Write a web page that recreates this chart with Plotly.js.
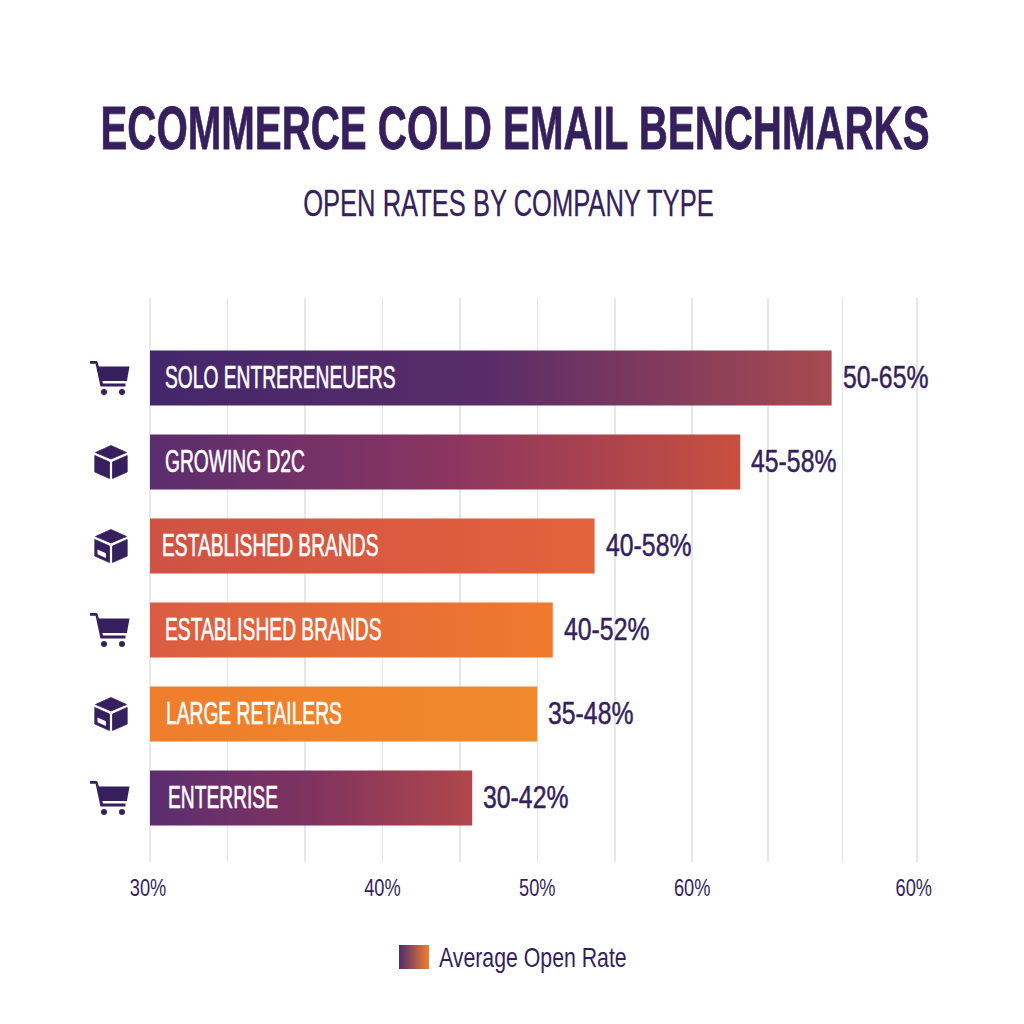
<!DOCTYPE html>
<html>
<head>
<meta charset="utf-8">
<title>Ecommerce cold email benchmarks</title>
<script src="https://cdn.plot.ly/plotly-3.0.1.min.js"></script>
<style>
html, body { margin: 0; padding: 0; background: #fff; }
#graph { width: 1024px; height: 1024px; }
</style>
</head>
<body>
<div id="graph"></div>
<script>
//DATA
var companies = ['SOLO ENTRERENEUERS', 'GROWING D2C', 'ESTABLISHED BRANDS', 'ESTABLISHED BRANDS', 'LARGE RETAILERS', 'ENTERRISE'];
var barValues = [69.0, 63.1, 53.7, 51.0, 50.0, 45.8];
var rangeLabels = ['50-65%', '45-58%', '40-58%', '40-52%', '35-48%', '30-42%'];
var gridValues = [25, 30, 35, 40, 45, 50, 55, 60, 64.9, 69.7, 74.5];
var gridLabels = ['30%', '', '', '40%', '', '50%', '', '60%', '', '', '60%'];
var iconKinds = ['cart', 'box', 'parcel', 'cart', 'parcel', 'cart'];

//STYLE
var DARK = '#351f5c';
var FONT = '"Liberation Sans Narrow", "Liberation Sans", sans-serif';
var barStart = ['#43276b', '#5a2d6e', '#cf5243', '#db5c43', '#ef7d2c', '#5b2d70'];
var barMid = ['#5a2c68', '#8a3560', '#d95a40', '#e56c38', '#f0842b', '#80335f'];
var barEnd = ['#a84a50', '#c8503f', '#e2633b', '#ef7a2d', '#f08a2b', '#b0474c'];
var labelShift = [14, 14, 11, 14, 15, 17];

var L = 148, R = 930, T = 298, B = 862;

//HELPER FUNCTIONS
function px(x) { return (x - L) / (R - L); }
function py(y) { return (B - y) / (B - T); }

function icon(kind) {
	var body;
	if (kind == 'cart') {
		body = '<path d="M0 1h6.500l1 .8L8.800 6.500H39.500l-2.600 14.500H12.300l.7 2.500H35.500v3H10.500L5.600 3.800H0z"/>' +
			'<circle cx="14" cy="32" r="3"/><circle cx="32" cy="32" r="3"/>';
		return 'data:image/svg+xml;utf8,' + encodeURIComponent('<svg xmlns="http://www.w3.org/2000/svg" viewBox="0 0 40 36" fill="' + DARK + '">' + body + '</svg>');
	}
	body = '<path d="M17 0.500L32.500 7.500 17 14 1.500 7.500z"/>' +
		'<path d="M0.800 10.500L15.500 17V33.500L0.800 27z"/>' +
		'<path d="M33.200 10.500L18.500 17V33.500L33.200 27z"/>';
	if (kind == 'parcel') {
		body += '<path d="M3.500 20.500l8.500 3.700v4.800L3.500 25.300z" fill="#fff" stroke="none"/>';
	}
	return 'data:image/svg+xml;utf8,' + encodeURIComponent('<svg xmlns="http://www.w3.org/2000/svg" viewBox="0 0 34 34" fill="' + DARK + '" stroke="' + DARK + '" stroke-width="0.8" stroke-linejoin="round">' + body + '</svg>');
}

//squeeze a text element sideways, the installed fonts are wider than the original
function squeeze(el, factor, left, thicken) {
	var w = el.getComputedTextLength();
	el.setAttribute('textLength', w * factor);
	el.setAttribute('lengthAdjust', 'spacingAndGlyphs');
	if (left) {
		el.setAttribute('x', parseFloat(el.getAttribute('x')) - w * (1 - factor) / 2);
	}
	if (thicken) {
		el.style.stroke = el.style.fill;
		el.style.strokeWidth = thicken + 'px';
	}
}

function addGradient(svg, id, stops) {
	var ns = 'http://www.w3.org/2000/svg';
	var defs = svg.querySelector('defs');
	var g = document.createElementNS(ns, 'linearGradient');
	g.setAttribute('id', id);
	stops.forEach(function (c, i) {
		var stop = document.createElementNS(ns, 'stop');
		stop.setAttribute('offset', i / (stops.length - 1));
		stop.setAttribute('stop-color', c);
		g.appendChild(stop);
	});
	defs.appendChild(g);
}

//MAIN
var rows = companies.map(function (c, i) { return i; });

var trace = {
	type: 'bar',
	orientation: 'h',
	x: barValues.map(function (v) { return v - 25; }),
	base: 25,
	y: rows,
	width: 0.655,
	marker: { color: barStart, line: { width: 0 } },
	hoverinfo: 'skip'
};

var annotations = [];
companies.forEach(function (c, i) {
	annotations.push({
		text: c, x: 25, y: i, xref: 'x', yref: 'y',
		xanchor: 'left', yanchor: 'middle', xshift: labelShift[i],
		showarrow: false, borderpad: 0,
		font: { family: FONT, size: 31, color: '#ffffff' }
	});
	annotations.push({
		text: rangeLabels[i], x: barValues[i], y: i, xref: 'x', yref: 'y',
		xanchor: 'left', yanchor: 'middle', xshift: 10,
		showarrow: false, borderpad: 0,
		font: { family: FONT, size: 31, color: DARK }
	});
});
annotations.push({
	text: 'OPEN RATES BY COMPANY TYPE', x: px(508.5), y: py(204), xref: 'paper', yref: 'paper',
	xanchor: 'center', yanchor: 'middle', showarrow: false, borderpad: 0,
	font: { family: FONT, size: 37, color: DARK }
});
annotations.push({
	text: 'Average Open Rate', x: px(438), y: py(957), xref: 'paper', yref: 'paper',
	xanchor: 'left', yanchor: 'middle', showarrow: false, borderpad: 0,
	font: { family: FONT, size: 28, color: DARK }
});

var images = iconKinds.map(function (k, i) {
	var cart = k == 'cart';
	return {
		source: icon(k), xref: 'paper', yref: 'paper',
		x: px(cart ? 90 : 94), y: py(378 + 84 * i),
		sizex: (cart ? 40 : 34) / (R - L), sizey: (cart ? 36 : 34) / (B - T),
		xanchor: 'left', yanchor: 'middle', sizing: 'stretch', layer: 'above'
	};
});

var layout = {
	width: 1024, height: 1024,
	margin: { l: L, r: 1024 - R, t: T, b: 1024 - B, pad: 0 },
	paper_bgcolor: '#ffffff', plot_bgcolor: '#ffffff',
	showlegend: false,
	title: {
		text: 'ECOMMERCE COLD EMAIL BENCHMARKS',
		x: 515 / 1024, xref: 'container', xanchor: 'center',
		y: 1 - 128 / 1024, yref: 'container', yanchor: 'middle',
		font: { family: FONT, size: 61, weight: 700, color: DARK }
	},
	xaxis: {
		range: [24.87, 75.35], tickmode: 'array', tickvals: gridValues, ticktext: gridLabels,
		showgrid: true, gridcolor: '#e7e6ea', gridwidth: 1.5, zeroline: false, showline: false,
		ticks: 'outside', ticklen: 4, tickcolor: 'rgba(0,0,0,0)',
		tickangle: 0, tickfont: { family: FONT, size: 24, color: DARK }
	},
	yaxis: {
		range: [5.762, -0.952], showgrid: false, zeroline: false, showline: false,
		showticklabels: false, ticks: ''
	},
	annotations: annotations,
	images: images,
	shapes: [{
		type: 'rect', xref: 'paper', yref: 'paper', layer: 'above',
		x0: px(399), x1: px(429), y0: py(945), y1: py(969),
		fillcolor: '#5b2d70', line: { width: 0 }
	}]
};

var canvas = document.getElementById('graph');

Plotly.newPlot(canvas, [trace], layout, { displayModeBar: false, staticPlot: true }).then(function () {
	var svg = canvas.querySelector('svg.main-svg');

	canvas.querySelectorAll('.barlayer .point path').forEach(function (p, i) {
		addGradient(svg, 'bargrad' + i, [barStart[i], barMid[i], barEnd[i]]);
		p.style.fill = 'url(#bargrad' + i + ')';
	});

	addGradient(svg, 'keygrad', ['#4f2a6e', '#f08030']);
	canvas.querySelectorAll('.shapelayer path').forEach(function (p) {
		p.style.fill = 'url(#keygrad)';
	});

	canvas.querySelectorAll('.annotation-text').forEach(function (t) {
		var s = t.textContent;
		if (s == 'OPEN RATES BY COMPANY TYPE') squeeze(t, 0.69, false, 0.3);
		else if (s == 'Average Open Rate') squeeze(t, 0.76, true, 0);
		else if (rangeLabels.indexOf(s) >= 0) squeeze(t, 0.8, true, 0.5);
		else squeeze(t, 0.62, true, 0.6);
	});
	var ticks = Array.prototype.filter.call(canvas.querySelectorAll('.xtick text'), function (t) {
		return t.textContent != '';
	});
	ticks.forEach(function (t) { squeeze(t, 0.76, false, 0); });
	//the end labels sit a little left of their grid lines
	var first = ticks[0], last = ticks[ticks.length - 1];
	first.setAttribute('x', parseFloat(first.getAttribute('x')) - 2);
	last.setAttribute('x', parseFloat(last.getAttribute('x')) - 3);
	canvas.querySelectorAll('.gtitle').forEach(function (t) {
		squeeze(t, 0.66, false, 0.8);
	});
});
</script>
</body>
</html>
